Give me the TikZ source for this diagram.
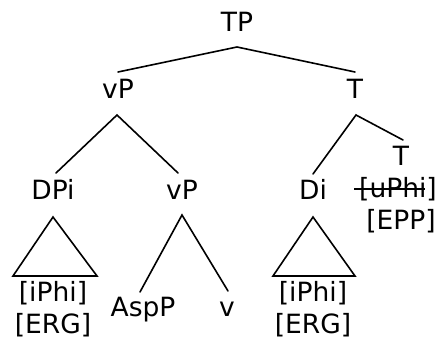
\documentclass[tikz,border=0pt]{standalone}
\usepackage{fontspec}
\setmainfont{DejaVu Sans}
\begin{document}
\begin{tikzpicture}[x=1pt,y=-1pt,
  lbl/.style={anchor=base,inner sep=0pt,font=\fontsize{26.5}{30}\selectfont},
  edge/.style={line width=1.6pt,line cap=round,line join=miter}]
\useasboundingbox (0,0) rectangle (437,339);
% labels
\node[lbl] (TP) at (237,32) {TP};
\node[lbl] (vP) at (118,99) {vP};
\node[lbl] (T) at (355,99) {T};
\node[lbl] (DPi) at (53,200) {DPi};
\node[lbl] (vP2) at (182,200) {vP};
\node[lbl] (Di) at (313,200) {Di};
\node[lbl] (T2) at (401,166) {T};
\node[lbl] (uPhi) at (398,198) {[uPhi]};
\node[lbl] (EPP) at (401,230) {[EPP]};
\node[lbl] (iPhiA) at (53,302) {[iPhi]};
\node[lbl] (ERGA) at (53,334) {[ERG]};
\node[lbl] (AspP) at (143,317) {AspP};
\node[lbl] (v) at (227,317) {v};
\node[lbl] (iPhiB) at (313,302) {[iPhi]};
\node[lbl] (ERGB) at (313,334) {[ERG]};
% branch points
\coordinate (TPa) at (237,47);
\coordinate (vPt) at (118,72);
\coordinate (Tt) at (355,72);
\coordinate (vPa) at (117,115);
\coordinate (DPit) at (56,173);
\coordinate (vP2t) at (178,173);
\coordinate (Ta) at (356,115);
\coordinate (Dit) at (313,174);
\coordinate (T2t) at (403,140);
\coordinate (vP2a) at (182,215);
\coordinate (AspPt) at (140,292);
\coordinate (vt) at (228,291);
\coordinate (DPia) at (53,217);
\coordinate (DPil) at (13,276);
\coordinate (DPir) at (97,276);
\coordinate (Dia) at (313,217);
\coordinate (Dil) at (273,276);
\coordinate (Dir) at (355,276);
\coordinate (sL) at (354,189);
\coordinate (sR) at (425,189);
% edges
\draw[edge] (vPt) -- (TPa) -- (Tt);
\draw[edge] (DPit) -- (vPa) -- (vP2t);
\draw[edge] (Dit) -- (Ta) -- (T2t);
\draw[edge] (AspPt) -- (vP2a) -- (vt);
\draw[edge] (DPia) -- (DPil) -- (DPir) -- cycle;
\draw[edge] (Dia) -- (Dil) -- (Dir) -- cycle;
\draw[line width=1.2pt] (sL) -- (sR);
\end{tikzpicture}
\end{document}
